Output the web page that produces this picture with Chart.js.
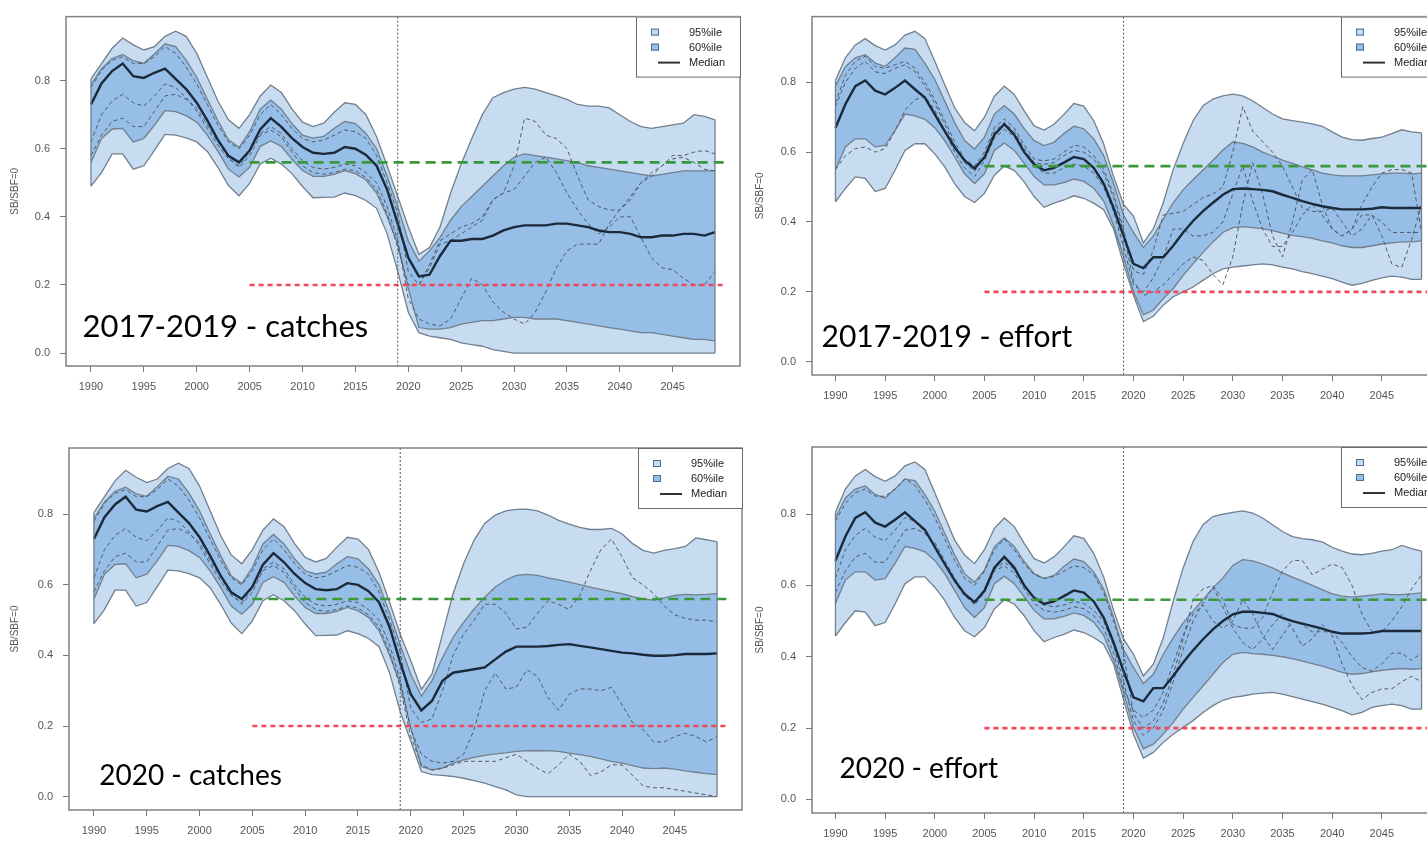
<!DOCTYPE html>
<html>
<head>
<meta charset="utf-8">
<title>SB/SBF=0 projections</title>
<script src="https://cdn.jsdelivr.net/npm/chart.js@4.4.1/dist/chart.umd.min.js"></script>
<style>
  html, body { margin: 0; padding: 0; background: #fff; }
  body { width: 1427px; height: 843px; overflow: hidden; position: relative; }
  canvas { position: absolute; }
</style>
</head>
<body>
<canvas id="tl" width="745" height="420" style="left:0;top:0"></canvas>
<canvas id="tr" width="720" height="420" style="left:745px;top:0"></canvas>
<canvas id="bl" width="745" height="423" style="left:0;top:420px"></canvas>
<canvas id="br" width="720" height="423" style="left:745px;top:420px"></canvas>
<script>
// years 1990..2049 (history up to 2019, projection from 2020)
const years = [];
for (let y = 1990; y <= 2049; y++) years.push(y);
const xTicks = [1990, 1995, 2000, 2005, 2010, 2015, 2020, 2025, 2030, 2035, 2040, 2045];
const yTicks = [0, 0.2, 0.4, 0.6, 0.8];
const refYears = [2005, 2050];
const targetLevel = [0.56, 0.56];
const limitLevel = [0.2, 0.2];
const cutYear = 2019;

// history 1990-2019, catch-based panels
const catchHist95Hi = [0.805,0.85,0.895,0.925,0.905,0.89,0.9,0.93,0.945,0.93, 0.88,0.81,0.74,0.685,0.66,0.7,0.755,0.787,0.765,0.717, 0.678,0.665,0.675,0.707,0.735,0.73,0.7,0.635,0.55,0.46];
const catchHist95Lo = [0.49,0.53,0.585,0.585,0.54,0.55,0.595,0.642,0.64,0.632, 0.62,0.592,0.545,0.492,0.462,0.498,0.555,0.572,0.555,0.527, 0.489,0.456,0.457,0.458,0.47,0.462,0.448,0.425,0.35,0.24];
const catchHist60Hi = [0.788,0.835,0.865,0.877,0.858,0.851,0.878,0.908,0.9,0.86, 0.81,0.745,0.683,0.626,0.604,0.65,0.716,0.743,0.716,0.674, 0.64,0.631,0.636,0.66,0.68,0.674,0.645,0.6,0.52,0.43];
const catchHist60Lo = [0.56,0.63,0.658,0.66,0.62,0.63,0.669,0.712,0.709,0.697, 0.678,0.64,0.593,0.54,0.517,0.545,0.607,0.623,0.607,0.569, 0.536,0.519,0.519,0.525,0.536,0.527,0.508,0.47,0.4,0.32];
const catchHistMed = [0.73,0.792,0.828,0.85,0.813,0.808,0.823,0.835,0.805,0.775, 0.735,0.683,0.626,0.579,0.56,0.595,0.657,0.69,0.664,0.631, 0.605,0.588,0.585,0.588,0.605,0.6,0.582,0.55,0.48,0.38];

// history 1990-2019, effort-based panels
const effHist95Hi = [0.805,0.87,0.907,0.925,0.905,0.892,0.907,0.935,0.946,0.925, 0.86,0.793,0.727,0.685,0.661,0.7,0.76,0.789,0.765,0.718, 0.675,0.663,0.68,0.708,0.739,0.732,0.69,0.624,0.53,0.45];
const effHist95Lo = [0.458,0.496,0.529,0.525,0.487,0.496,0.548,0.605,0.624,0.624, 0.595,0.558,0.51,0.473,0.456,0.482,0.534,0.56,0.548,0.515, 0.473,0.442,0.454,0.463,0.475,0.468,0.454,0.435,0.38,0.28];
const effHist60Hi = [0.789,0.845,0.87,0.879,0.855,0.845,0.87,0.898,0.894,0.855, 0.808,0.746,0.685,0.633,0.609,0.643,0.709,0.733,0.709,0.667, 0.633,0.619,0.628,0.653,0.674,0.667,0.638,0.59,0.51,0.42];
const effHist60Lo = [0.549,0.615,0.638,0.638,0.615,0.619,0.662,0.709,0.704,0.694, 0.67,0.633,0.586,0.538,0.51,0.538,0.605,0.626,0.605,0.568, 0.53,0.506,0.506,0.513,0.523,0.516,0.497,0.46,0.39,0.3];
const effHistMed = [0.669,0.737,0.789,0.805,0.776,0.765,0.784,0.805,0.78,0.756, 0.708,0.66,0.614,0.576,0.553,0.585,0.65,0.68,0.65,0.6, 0.565,0.548,0.555,0.57,0.586,0.58,0.555,0.51,0.44,0.36];

// single-run trajectories, history part
const histTrajA = [0.78,0.83,0.86,0.87,0.85,0.85,0.87,0.9,0.88,0.84, 0.79,0.73,0.67,0.62,0.6,0.64,0.7,0.73,0.7,0.66, 0.63,0.62,0.625,0.64,0.655,0.65,0.63,0.58,0.5,0.41];
const histTrajB = [0.62,0.7,0.74,0.76,0.735,0.725,0.755,0.79,0.78,0.75, 0.71,0.66,0.61,0.57,0.55,0.59,0.645,0.665,0.645,0.6, 0.565,0.545,0.54,0.545,0.555,0.55,0.53,0.5,0.43,0.33];
const histTrajC = [0.58,0.64,0.68,0.69,0.665,0.665,0.71,0.755,0.76,0.745, 0.72,0.67,0.62,0.575,0.545,0.58,0.64,0.655,0.635,0.59, 0.55,0.53,0.525,0.53,0.54,0.535,0.515,0.48,0.41,0.31];
const effTrajHistA = [0.74,0.82,0.86,0.875,0.845,0.84,0.85,0.86,0.84,0.8, 0.75,0.69,0.63,0.58,0.56,0.6,0.67,0.695,0.67,0.62, 0.58,0.575,0.58,0.6,0.62,0.615,0.59,0.55,0.48,0.38];
const effTrajHistB = [0.73,0.8,0.84,0.86,0.83,0.825,0.84,0.85,0.83,0.79, 0.74,0.68,0.62,0.57,0.545,0.59,0.66,0.685,0.66,0.61, 0.57,0.565,0.57,0.59,0.605,0.6,0.58,0.54,0.47,0.37];
const effTrajHistC = [0.55,0.59,0.61,0.615,0.6,0.61,0.66,0.72,0.75,0.76, 0.72,0.66,0.6,0.555,0.53,0.575,0.64,0.665,0.645,0.6, 0.56,0.54,0.54,0.555,0.565,0.56,0.54,0.5,0.43,0.33];

// projections 2020-2049: 2017-2019 catches
const tl95Hi = [0.37,0.29,0.31,0.37,0.47,0.555,0.63,0.7,0.75,0.765, 0.775,0.78,0.775,0.765,0.755,0.745,0.73,0.725,0.725,0.72, 0.7,0.68,0.665,0.66,0.665,0.67,0.675,0.7,0.695,0.685];
const tl95Lo = [0.12,0.06,0.05,0.045,0.04,0.03,0.025,0.02,0.01,0.005, 0,0,0,0,0,0,0,0,0,0, 0,0,0,0,0,0,0,0,0,0];
const tl60Hi = [0.33,0.27,0.3,0.34,0.39,0.43,0.46,0.49,0.52,0.55, 0.575,0.585,0.58,0.575,0.57,0.565,0.56,0.55,0.545,0.54, 0.535,0.53,0.525,0.52,0.525,0.53,0.535,0.535,0.535,0.535];
const tl60Lo = [0.19,0.075,0.07,0.07,0.075,0.085,0.09,0.095,0.095,0.1, 0.105,0.105,0.1,0.1,0.1,0.095,0.09,0.085,0.08,0.075, 0.07,0.065,0.06,0.06,0.055,0.05,0.045,0.04,0.04,0.035];
const tlMed = [0.28,0.225,0.23,0.285,0.33,0.33,0.335,0.335,0.345,0.36, 0.37,0.375,0.375,0.375,0.38,0.38,0.375,0.37,0.36,0.355, 0.355,0.35,0.34,0.34,0.345,0.345,0.35,0.35,0.345,0.355];
const tlTrajA = [0.24,0.2,0.26,0.33,0.35,0.37,0.38,0.4,0.45,0.47, 0.55,0.69,0.68,0.64,0.63,0.6,0.52,0.45,0.43,0.42, 0.42,0.45,0.5,0.53,0.55,0.58,0.58,0.59,0.595,0.585];
const tlTrajB = [0.16,0.1,0.085,0.08,0.1,0.16,0.22,0.2,0.15,0.12, 0.1,0.085,0.12,0.18,0.25,0.3,0.32,0.32,0.32,0.38, 0.42,0.46,0.5,0.52,0.55,0.57,0.575,0.56,0.54,0.535];
const tlTrajC = [0.2,0.2,0.25,0.32,0.33,0.35,0.37,0.39,0.45,0.47, 0.48,0.52,0.56,0.575,0.53,0.47,0.42,0.38,0.35,0.37, 0.4,0.4,0.34,0.28,0.25,0.245,0.22,0.2,0.2,0.24];

// projections 2020-2049: 2017-2019 effort
const tr95Hi = [0.417,0.34,0.38,0.455,0.55,0.625,0.69,0.733,0.752,0.761, 0.766,0.761,0.747,0.728,0.709,0.695,0.69,0.686,0.681,0.674, 0.658,0.643,0.636,0.634,0.639,0.643,0.653,0.664,0.658,0.655];
const tr95Lo = [0.19,0.115,0.13,0.162,0.186,0.2,0.214,0.233,0.252,0.266, 0.271,0.274,0.277,0.28,0.277,0.271,0.266,0.258,0.252,0.245, 0.238,0.228,0.219,0.224,0.233,0.24,0.245,0.242,0.236,0.236];
const tr60Hi = [0.37,0.327,0.36,0.408,0.455,0.492,0.521,0.549,0.577,0.606, 0.629,0.625,0.615,0.6,0.589,0.577,0.568,0.558,0.549,0.54, 0.535,0.532,0.532,0.532,0.535,0.538,0.54,0.54,0.538,0.54];
const tr60Lo = [0.2,0.134,0.148,0.181,0.209,0.247,0.28,0.313,0.343,0.37, 0.384,0.387,0.384,0.381,0.375,0.368,0.362,0.358,0.353,0.346, 0.34,0.332,0.327,0.327,0.332,0.337,0.34,0.343,0.343,0.346];
const trMed = [0.28,0.268,0.299,0.299,0.332,0.37,0.403,0.431,0.455,0.478, 0.494,0.496,0.494,0.492,0.488,0.478,0.469,0.46,0.452,0.445, 0.44,0.436,0.436,0.436,0.438,0.442,0.44,0.44,0.44,0.44];
const trTrajA = [0.26,0.25,0.32,0.42,0.425,0.43,0.45,0.47,0.48,0.5, 0.6,0.73,0.66,0.63,0.6,0.56,0.5,0.44,0.43,0.43, 0.44,0.4,0.36,0.38,0.42,0.4,0.37,0.37,0.37,0.37];
const trTrajB = [0.23,0.19,0.2,0.22,0.25,0.28,0.3,0.29,0.25,0.22, 0.3,0.45,0.57,0.48,0.36,0.3,0.4,0.52,0.55,0.45, 0.38,0.36,0.38,0.42,0.42,0.36,0.28,0.27,0.35,0.45];
const trTrajC = [0.22,0.2,0.24,0.3,0.38,0.38,0.36,0.36,0.37,0.4, 0.48,0.56,0.46,0.38,0.33,0.33,0.37,0.42,0.45,0.42, 0.38,0.36,0.38,0.45,0.5,0.54,0.55,0.55,0.54,0.37];

// projections 2020-2049: 2020 catches
const bl95Hi = [0.385,0.304,0.347,0.46,0.575,0.66,0.727,0.774,0.798,0.81, 0.814,0.815,0.81,0.798,0.783,0.772,0.763,0.757,0.757,0.76, 0.745,0.717,0.698,0.69,0.698,0.703,0.709,0.733,0.728,0.722];
const bl95Lo = [0.157,0.071,0.062,0.06,0.057,0.052,0.045,0.038,0.028,0.019, 0.005,0,0,0,0,0,0,0,0,0, 0,0,0,0,0,0,0,0,0,0];
const bl60Hi = [0.347,0.285,0.328,0.394,0.451,0.494,0.532,0.565,0.594,0.614, 0.627,0.63,0.627,0.62,0.614,0.608,0.601,0.594,0.587,0.581, 0.575,0.567,0.56,0.557,0.563,0.57,0.573,0.572,0.573,0.575];
const bl60Lo = [0.195,0.085,0.076,0.081,0.095,0.104,0.111,0.117,0.121,0.124, 0.128,0.13,0.13,0.13,0.128,0.123,0.119,0.114,0.107,0.1, 0.095,0.088,0.081,0.079,0.081,0.078,0.073,0.069,0.065,0.062];
const blMed = [0.29,0.244,0.271,0.328,0.351,0.356,0.361,0.366,0.389,0.411, 0.425,0.425,0.425,0.427,0.43,0.432,0.427,0.423,0.418,0.413, 0.408,0.406,0.402,0.399,0.399,0.401,0.404,0.404,0.404,0.406];
const blTrajA = [0.25,0.21,0.22,0.3,0.4,0.46,0.5,0.545,0.545,0.52, 0.475,0.48,0.52,0.555,0.545,0.53,0.57,0.64,0.7,0.73, 0.68,0.62,0.6,0.575,0.54,0.515,0.505,0.5,0.5,0.495];
const blTrajB = [0.19,0.12,0.1,0.095,0.1,0.12,0.19,0.3,0.35,0.305, 0.31,0.36,0.34,0.28,0.245,0.29,0.305,0.305,0.3,0.31, 0.26,0.21,0.19,0.155,0.155,0.17,0.18,0.17,0.155,0.17];
const blTrajC = [0.17,0.09,0.075,0.08,0.09,0.1,0.1,0.1,0.1,0.11, 0.12,0.1,0.08,0.065,0.09,0.12,0.1,0.06,0.07,0.09, 0.09,0.06,0.03,0.025,0.025,0.02,0.015,0.01,0.005,0];

// projections 2020-2049: 2020 effort
const br95Hi = [0.407,0.346,0.379,0.453,0.556,0.649,0.723,0.77,0.793,0.8, 0.805,0.809,0.803,0.789,0.77,0.751,0.737,0.731,0.728,0.722, 0.707,0.696,0.688,0.686,0.69,0.696,0.7,0.712,0.703,0.696];
const br95Lo = [0.183,0.116,0.132,0.16,0.183,0.202,0.221,0.244,0.263,0.278, 0.286,0.29,0.295,0.298,0.3,0.295,0.288,0.281,0.274,0.267, 0.258,0.249,0.237,0.244,0.258,0.263,0.267,0.263,0.253,0.253];
const br60Hi = [0.37,0.325,0.351,0.407,0.453,0.495,0.528,0.56,0.593,0.621, 0.656,0.672,0.669,0.66,0.649,0.635,0.623,0.612,0.6,0.588, 0.576,0.57,0.567,0.57,0.573,0.576,0.574,0.574,0.576,0.579];
const br60Lo = [0.202,0.142,0.155,0.183,0.216,0.253,0.286,0.318,0.351,0.384, 0.407,0.412,0.409,0.407,0.404,0.4,0.395,0.388,0.381,0.374, 0.365,0.356,0.351,0.353,0.358,0.362,0.365,0.367,0.365,0.367];
const brMed = [0.286,0.275,0.312,0.312,0.346,0.384,0.418,0.449,0.477,0.5, 0.519,0.526,0.526,0.523,0.52,0.509,0.5,0.493,0.486,0.479, 0.47,0.465,0.465,0.465,0.467,0.472,0.472,0.472,0.472,0.472];
const brTrajA = [0.24,0.2,0.22,0.27,0.35,0.45,0.56,0.59,0.6,0.56, 0.49,0.48,0.48,0.51,0.58,0.64,0.67,0.67,0.63,0.645, 0.66,0.65,0.6,0.52,0.47,0.47,0.5,0.54,0.59,0.63];
const brTrajB = [0.22,0.18,0.2,0.25,0.33,0.42,0.5,0.55,0.595,0.54, 0.48,0.44,0.42,0.45,0.49,0.52,0.48,0.43,0.45,0.49, 0.46,0.38,0.32,0.28,0.3,0.31,0.31,0.33,0.345,0.33];
const brTrajC = [0.25,0.23,0.25,0.3,0.38,0.46,0.52,0.545,0.5,0.48, 0.5,0.56,0.52,0.46,0.42,0.46,0.5,0.49,0.47,0.47, 0.47,0.44,0.4,0.37,0.36,0.38,0.41,0.41,0.39,0.41];

const FILL95 = '#c7dcf1';
const FILL60 = '#97bee6';
const BAND_EDGE = '#717f8e';
const MEDIAN = '#1b2a3b';
const TRAJ = '#4e5a67';
const GREEN = '#3a983a';
const RED = '#f0485a';
const TICK_FONT = { family: '"Liberation Sans", Arial, sans-serif', size: 11 };

const panels = [
  { id: 'tl', label: '2017-2019 - catches', labelSize: 31, labelAt: [1989.2, 0.046], yWidth: 66, xHeight: 54, pad: { top: 6, right: 5 },
    hi95: catchHist95Hi.concat(tl95Hi), lo95: catchHist95Lo.concat(tl95Lo), hi60: catchHist60Hi.concat(tl60Hi), lo60: catchHist60Lo.concat(tl60Lo),
    med: catchHistMed.concat(tlMed), trajs: [histTrajA.concat(tlTrajA), histTrajB.concat(tlTrajB), histTrajC.concat(tlTrajC)] },
  { id: 'tr', label: '2017-2019 - effort', labelSize: 30, labelAt: [1988.6, 0.042], yWidth: 67, xHeight: 45, pad: { top: 12, right: 20 },
    hi95: effHist95Hi.concat(tr95Hi), lo95: effHist95Lo.concat(tr95Lo), hi60: effHist60Hi.concat(tr60Hi), lo60: effHist60Lo.concat(tr60Lo),
    med: effHistMed.concat(trMed), trajs: [effTrajHistA.concat(trTrajA), effTrajHistB.concat(trTrajB), effTrajHistC.concat(trTrajC)] },
  { id: 'bl', label: '2020 - catches', labelSize: 28, labelAt: [1990.5, 0.034], yWidth: 69, xHeight: 33, pad: { top: 28, right: 3 },
    hi95: catchHist95Hi.concat(bl95Hi), lo95: catchHist95Lo.concat(bl95Lo), hi60: catchHist60Hi.concat(bl60Hi), lo60: catchHist60Lo.concat(bl60Lo),
    med: catchHistMed.concat(blMed), trajs: [histTrajA.concat(blTrajA), histTrajB.concat(blTrajB), histTrajC.concat(blTrajC)] },
  { id: 'br', label: '2020 - effort', labelSize: 28, labelAt: [1990.4, 0.059], yWidth: 67, xHeight: 30, pad: { top: 27, right: 20 },
    hi95: effHist95Hi.concat(br95Hi), lo95: effHist95Lo.concat(br95Lo), hi60: effHist60Hi.concat(br60Hi), lo60: effHist60Lo.concat(br60Lo),
    med: effHistMed.concat(brMed), trajs: [histTrajA.concat(brTrajA), histTrajB.concat(brTrajB), histTrajC.concat(brTrajC)] }
];

function pts(vals) {
  return vals.map((v, i) => ({ x: years[i], y: v }));
}
function segment(xs, ys) {
  return xs.map((x, i) => ({ x: x, y: ys[i] }));
}

// frame, cut-off year line, band end edges, legend and panel title
const decor = {
  id: 'decor',
  afterDatasetsDraw(chart) {
    const p = chart.options.panel;
    const { ctx, chartArea: a, scales: { x, y } } = chart;
    ctx.save();
    // closing edges of the band polygons
    ctx.strokeStyle = BAND_EDGE;
    ctx.lineWidth = 1.3;
    [0, years.length - 1].forEach(i => {
      const px = x.getPixelForValue(years[i]);
      ctx.beginPath();
      ctx.moveTo(px, y.getPixelForValue(p.hi95[i]));
      ctx.lineTo(px, y.getPixelForValue(p.lo95[i]));
      ctx.stroke();
    });
    // vertical dotted line at the last assessment year
    const cx = x.getPixelForValue(cutYear);
    ctx.strokeStyle = '#555';
    ctx.lineWidth = 1;
    ctx.setLineDash([2, 2]);
    ctx.beginPath();
    ctx.moveTo(cx, a.top);
    ctx.lineTo(cx, a.bottom);
    ctx.stroke();
    ctx.restore();
  },
  afterDraw(chart) {
    const p = chart.options.panel;
    const { ctx, chartArea: a, scales: { x, y } } = chart;
    ctx.save();
    ctx.strokeStyle = '#808080';
    ctx.lineWidth = 1.5;
    ctx.strokeRect(a.left, a.top, a.right - a.left, a.bottom - a.top);

    // legend box in the top right corner
    const w = 104, h = 60, lx = a.right - w, ly = a.top;
    ctx.fillStyle = '#fff';
    ctx.fillRect(lx, ly, w, h);
    ctx.strokeStyle = '#6a6a6a';
    ctx.lineWidth = 1;
    ctx.strokeRect(lx + 0.5, ly + 0.5, w, h);
    [[FILL95, 12], [FILL60, 27]].forEach(([c, dy]) => {
      ctx.fillStyle = c;
      ctx.fillRect(lx + 15, ly + dy, 8, 7);
      ctx.strokeStyle = '#4d6d8f';
      ctx.strokeRect(lx + 15.5, ly + dy + 0.5, 7, 6);
    });
    ctx.strokeStyle = '#333';
    ctx.lineWidth = 2;
    ctx.beginPath();
    ctx.moveTo(lx + 22, ly + 46);
    ctx.lineTo(lx + 44, ly + 46);
    ctx.stroke();
    ctx.fillStyle = '#222';
    ctx.font = '11px "Liberation Sans", Arial, sans-serif';
    ctx.textBaseline = 'middle';
    ctx.fillText('95%ile', lx + 53, ly + 16);
    ctx.fillText('60%ile', lx + 53, ly + 31);
    ctx.fillText('Median', lx + 53, ly + 46);

    // scenario title
    ctx.fillStyle = '#000';
    ctx.font = p.labelSize + 'px Lato, "Open Sans", sans-serif';
    ctx.textBaseline = 'alphabetic';
    ctx.fillText(p.label, x.getPixelForValue(p.labelAt[0]), y.getPixelForValue(p.labelAt[1]));
    ctx.restore();
  }
};

panels.forEach(p => {
  const bandLine = { borderColor: BAND_EDGE, borderWidth: 1.3, pointRadius: 0 };
  const datasets = [
    Object.assign({ data: pts(p.hi95), backgroundColor: FILL95, fill: '+1', order: 5 }, bandLine),
    Object.assign({ data: pts(p.lo95), fill: false, order: 5 }, bandLine),
    Object.assign({ data: pts(p.hi60), backgroundColor: FILL60, fill: '+1', order: 4 }, bandLine),
    Object.assign({ data: pts(p.lo60), fill: false, order: 4 }, bandLine)
  ];
  p.trajs.forEach(t => {
    datasets.push({ data: pts(t), borderColor: TRAJ, borderWidth: 1, borderDash: [4, 3], pointRadius: 0, fill: false, order: 3 });
  });
  datasets.push({ data: pts(p.med), borderColor: MEDIAN, borderWidth: 2.4, pointRadius: 0, fill: false, order: 2 });
  datasets.push({ data: segment(refYears, targetLevel), borderColor: GREEN, borderWidth: 2.6, borderDash: [10, 6], pointRadius: 0, fill: false, order: 1 });
  datasets.push({ data: segment(refYears, limitLevel), borderColor: RED, borderWidth: 2.6, borderDash: [5, 4], pointRadius: 0, fill: false, order: 1 });

  new Chart(document.getElementById(p.id), {
    type: 'line',
    data: { datasets: datasets },
    options: {
      panel: p,
      responsive: false,
      animation: false,
      devicePixelRatio: 1,
      layout: { padding: { top: p.pad.top, right: p.pad.right, left: 0, bottom: 0 } },
      elements: { line: { tension: 0 } },
      plugins: {
        legend: { display: false },
        tooltip: { enabled: false },
        filler: { drawTime: 'beforeDatasetsDraw' }
      },
      scales: {
        x: {
          type: 'linear',
          min: 1987.64,
          max: 2051.36,
          afterBuildTicks: s => { s.ticks = xTicks.map(v => ({ value: v })); },
          afterFit: s => { s.height = p.xHeight; },
          grid: { drawOnChartArea: false, tickLength: 6, color: '#777' },
          border: { display: false },
          ticks: { color: '#555', font: TICK_FONT, padding: 8, maxRotation: 0, autoSkip: false, callback: v => String(v) }
        },
        y: {
          min: -0.038,
          max: 0.988,
          afterBuildTicks: s => { s.ticks = yTicks.map(v => ({ value: v })); },
          afterFit: s => { s.width = p.yWidth; },
          grid: { drawOnChartArea: false, tickLength: 6, color: '#777' },
          border: { display: false },
          ticks: { color: '#555', font: TICK_FONT, padding: 10, callback: v => v.toFixed(1) },
          title: { display: true, text: 'SB/SBF=0', color: '#555', font: { family: '"Liberation Sans", Arial, sans-serif', size: 10 }, padding: { top: 9, bottom: 0 } }
        }
      }
    },
    plugins: [decor]
  });
});
</script>
</body>
</html>
